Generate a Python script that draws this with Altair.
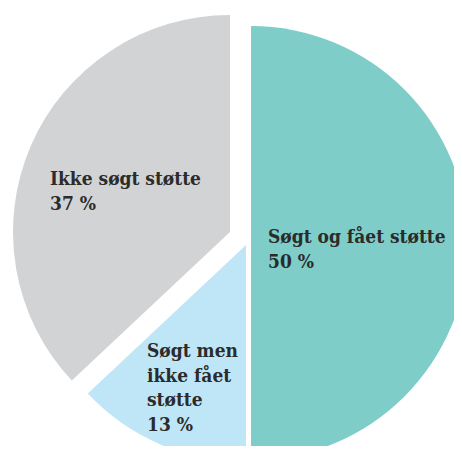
import altair as alt
import pandas as pd

categories = ["Søgt og fået støtte", "Søgt men ikke fået støtte", "Ikke søgt støtte"]
values = [50, 13, 37]
labels = ["Søgt og fået støtte\n50 %", "Søgt men\nikke fået\nstøtte\n13 %", "Ikke søgt støtte\n37 %"]
colors = ["#7ECDC8", "#BEE6F7", "#D1D3D4"]

df = pd.DataFrame({"cat": categories, "value": values, "label": labels, "order": [0, 1, 2]})

base = alt.Chart(df).transform_window(
    cum="sum(value)", sort=[alt.SortField("order")]
).transform_calculate(start="datum.cum - datum.value")

theta_scale = alt.Scale(domain=[0, 100], range=[0, 6.283185307])
color_scale = alt.Scale(domain=categories, range=colors)

cx, cy, R = 232, 228, 217
offsets = {categories[0]: (11, 7), categories[1]: (6, 9), categories[2]: (-10, -4)}
label_pos = {categories[0]: (260, 235), categories[1]: (139, 349), categories[2]: (42, 177)}

layers = []
for c in categories:
    dx, dy = offsets[c]
    layers.append(
        base.transform_filter(alt.datum.cat == c).mark_arc(
            radius=R, xOffset=dx, yOffset=dy, stroke=None
        ).encode(
            theta=alt.Theta("start:Q", scale=theta_scale),
            theta2="cum:Q",
            color=alt.Color("cat:N", scale=color_scale, legend=None),
            x=alt.value(cx),
            y=alt.value(cy),
        )
    )
for c in categories:
    lx, ly = label_pos[c]
    layers.append(
        base.transform_filter(alt.datum.cat == c).mark_text(
            align="left", baseline="alphabetic", lineBreak="\n", lineHeight=24.5,
            font="DejaVu Serif Condensed", fontWeight="bold", fontSize=19, color="#2B2B2B"
        ).encode(text="label:N", x=alt.value(lx), y=alt.value(ly))
    )

chart = alt.layer(*layers).properties(
    width=446, height=438, padding=0, autosize=alt.AutoSizeParams(type="none")
).configure_view(stroke=None)

chart.save("out.html", embed_options={"renderer": "svg", "actions": False})
